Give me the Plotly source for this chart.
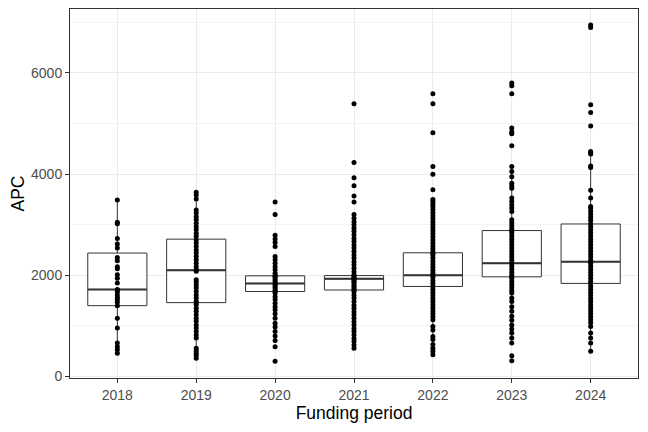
import plotly.graph_objects as go

# funding periods
years = ['2018', '2019', '2020', '2021', '2022', '2023', '2024']

# box statistics
q1 = [1400, 1460, 1680, 1710, 1780, 1970, 1840]
median = [1720, 2100, 1840, 1930, 2000, 2240, 2270]
q3 = [2440, 2715, 1990, 1995, 2445, 2885, 3015]
lowerfence = [460, 360, 1240, 1280, 790, 660, 500]
upperfence = [3490, 3640, 2370, 2400, 3410, 4150, 4450]

# individual APC values per year
apc_2018 = [3490, 3050, 3020, 2730, 2620, 2540, 2350, 2290, 2170, 2130, 2010, 1940,
            1850, 1720, 1710, 1670, 1610, 1560, 1520, 1470, 1400, 1150, 960, 660,
            590, 530, 460]
apc_2019 = [3640, 3590, 3510, 3290, 3230, 3160, 3100, 3030, 2960, 2900, 2830, 2770,
            2700, 2640, 2570, 2500, 2440, 2370, 2310, 2240, 2170, 2110, 2100, 2080,
            1910, 1870, 1810, 1750, 1680, 1610, 1550, 1480, 1460, 1420, 1350, 1290,
            1220, 1150, 1090, 1020, 960, 890, 820, 760, 560, 510, 460, 420, 360]
apc_2020 = [3450, 3200, 2790, 2720, 2650, 2570, 2370, 2310, 2240, 2170, 2110, 2040,
            1990, 1980, 1950, 1910, 1880, 1840, 1820, 1780, 1750, 1710, 1680, 1650,
            1580, 1520, 1450, 1380, 1320, 1240, 1150, 1050, 980, 890, 800, 710, 590, 300]
apc_2021 = [5390, 4230, 3930, 3770, 3570, 3450, 3200, 3130, 3060, 3000, 2930, 2870,
            2800, 2730, 2670, 2600, 2540, 2470, 2400, 2340, 2270, 2210, 2140, 2070,
            2010, 1990, 1960, 1940, 1930, 1900, 1880, 1850, 1810, 1780, 1740, 1710,
            1680, 1610, 1550, 1480, 1410, 1350, 1280, 1220, 1150, 1080, 1020, 950,
            890, 820, 750, 690, 620, 560]
apc_2022 = [5590, 5390, 4820, 4150, 4000, 3690, 3500, 3460, 3410, 3360, 3300, 3240,
            3180, 3120, 3060, 3000, 2940, 2880, 2820, 2760, 2700, 2640, 2580, 2520,
            2460, 2440, 2400, 2340, 2280, 2220, 2160, 2100, 2040, 2000, 1960, 1900,
            1840, 1780, 1720, 1660, 1600, 1540, 1480, 1420, 1360, 1300, 1240, 1180,
            1120, 990, 920, 790, 730, 630, 560, 500, 430]
apc_2023 = [5800, 5750, 5590, 4910, 4840, 4800, 4560, 4150, 4050, 3950, 3820, 3770,
            3720, 3530, 3460, 3390, 3330, 3260, 3100, 3040, 2980, 2920, 2880, 2840,
            2780, 2720, 2660, 2600, 2540, 2480, 2420, 2360, 2300, 2240, 2180, 2120,
            2060, 2000, 1970, 1940, 1880, 1820, 1760, 1700, 1650, 1550, 1480, 1380,
            1290, 1190, 1110, 1020, 940, 860, 760, 660, 410, 310]
apc_2024 = [6950, 6900, 5370, 5220, 4950, 4450, 4430, 4400, 4160, 4130, 3680, 3530,
            3360, 3330, 3270, 3210, 3150, 3090, 3020, 2960, 2900, 2840, 2780, 2720,
            2660, 2600, 2540, 2480, 2420, 2360, 2300, 2270, 2240, 2180, 2120, 2060,
            2000, 1940, 1880, 1840, 1780, 1720, 1660, 1600, 1540, 1480, 1420, 1360,
            1300, 1240, 1180, 1120, 1060, 990, 860, 760, 660, 500]

apc = [apc_2018, apc_2019, apc_2020, apc_2021, apc_2022, apc_2023, apc_2024]

fig = go.Figure()

# boxplot (whiskers without caps, like ggplot)
fig.add_trace(go.Box(x=years, q1=q1, median=median, q3=q3,
                     lowerfence=lowerfence, upperfence=upperfence,
                     boxpoints=False, width=0.75, whiskerwidth=0,
                     fillcolor='white', line=dict(color='#333333', width=1),
                     showlegend=False, hoverinfo='skip'))

# thicker median bar
fig.add_trace(go.Scatter(x=years, y=median, mode='markers',
                         marker=dict(symbol='line-ew', size=42,
                                     line=dict(color='#333333', width=2)),
                         showlegend=False, hoverinfo='skip'))

# points on top
for yr, vals in zip(years, apc):
    fig.add_trace(go.Scatter(x=[yr] * len(vals), y=vals, mode='markers',
                             marker=dict(color='black', size=5),
                             showlegend=False))

# page body adds 8px around the figure, so margins are shifted to compensate
fig.update_layout(
    width=648, height=432,
    margin=dict(l=62, r=18, t=1, b=62),
    plot_bgcolor='white', paper_bgcolor='white',
    font=dict(family='Liberation Sans, Arial', color='#4D4D4D', size=14),
)

fig.update_xaxes(
    type='category', range=[-0.6, 6.6],
    showgrid=True, gridcolor='#EBEBEB', gridwidth=1,
    showline=True, linecolor='#333333', linewidth=1, mirror=True,
    ticks='outside', ticklen=4, tickcolor='#333333',
    title=dict(text='Funding period', font=dict(size=17.5, color='black'), standoff=4),
)
fig.update_yaxes(
    range=[-30, 7265], tickvals=[0, 2000, 4000, 6000], zeroline=False,
    showgrid=True, gridcolor='#EBEBEB', gridwidth=1,
    minor=dict(tickvals=[1000, 3000, 5000, 7000], showgrid=True,
               gridcolor='#F4F4F4', gridwidth=0.5),
    showline=True, linecolor='#333333', linewidth=1, mirror=True,
    ticks='outside', ticklen=4, tickcolor='#333333',
    title=dict(text='APC', font=dict(size=17.5, color='black'), standoff=6),
)

fig.write_html("out.html")
